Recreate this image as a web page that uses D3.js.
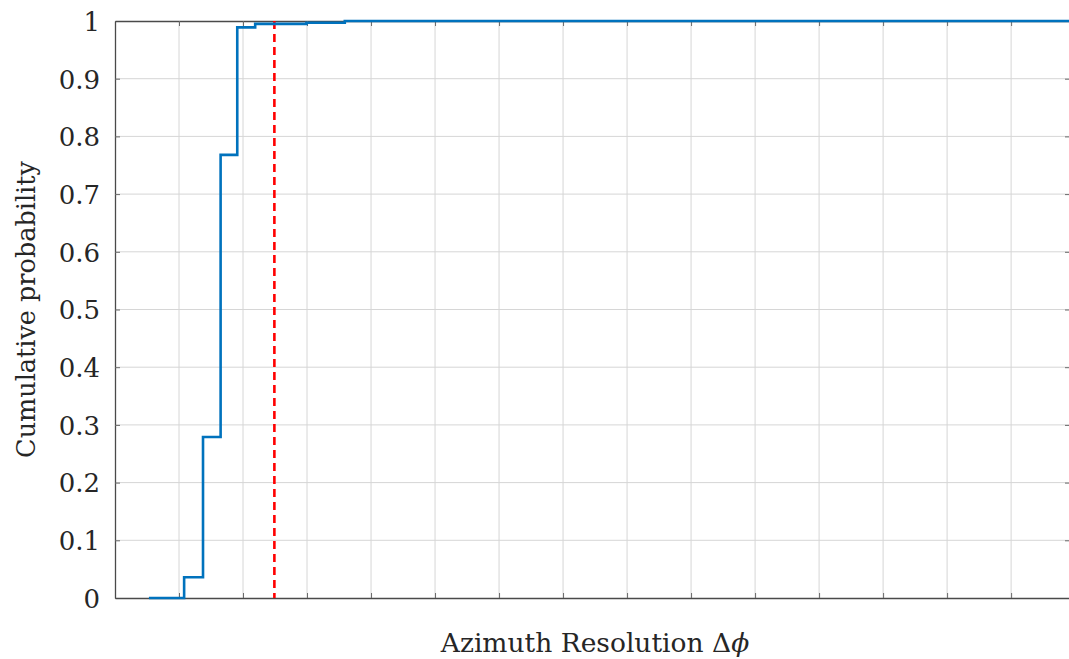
<!DOCTYPE html>
<html>
<head>
<meta charset="utf-8">
<script src="https://cdn.jsdelivr.net/npm/d3@7"></script>
<style>
  body { margin: 0; background: #fff; }
  svg { display: block; }
  text { fill: #262626; }
</style>
</head>
<body>
<svg></svg>
<script>
// stair (empirical CDF) breakpoints, x in grid units
var stepX = [0.53, 1.08, 1.375, 1.65, 1.91, 2.19, 2.99, 3.59, 14.92];
var stepY = [0, 0.036, 0.279, 0.768, 0.989, 0.995, 0.997, 1, 1];
var thresholdX = 2.49;
var xGrid = [1, 2, 3, 4, 5, 6, 7, 8, 9, 10, 11, 12, 13, 14];
var yTicks = [0, 0.1, 0.2, 0.3, 0.4, 0.5, 0.6, 0.7, 0.8, 0.9, 1];
var yTickLabels = ['0', '0.1', '0.2', '0.3', '0.4', '0.5', '0.6', '0.7', '0.8', '0.9', '1'];

(function draw() {
  var width = 1069, height = 659;
  var pl = 115, pt = 21, pb = 598, pr = 1070;
  var serif = "'DejaVu Serif', serif";

  var svg = d3.select('svg').attr('width', width).attr('height', height);

  var x = d3.scaleLinear().domain([0, 14.92]).range([pl, pr]);
  var y = d3.scaleLinear().domain([0, 1]).range([pb, pt]);

  // grid
  svg.append('g').selectAll('line').data(xGrid).enter().append('line')
    .attr('x1', function(d){ return x(d) }).attr('x2', function(d){ return x(d) })
    .attr('y1', pt).attr('y2', pb)
    .attr('stroke', '#d6d6d6').attr('stroke-width', 1);
  svg.append('g').selectAll('line').data(yTicks.slice(1, -1)).enter().append('line')
    .attr('y1', function(d){ return y(d) }).attr('y2', function(d){ return y(d) })
    .attr('x1', pl).attr('x2', pr)
    .attr('stroke', '#d6d6d6').attr('stroke-width', 1);

  // axes (MATLAB style ticks inward, box)
  var axL = svg.append('g').attr('transform', 'translate(' + pl + ',0)')
    .call(d3.axisLeft(y).tickValues(yTicks).tickSizeInner(-5).tickSizeOuter(0).tickPadding(15)
      .tickFormat(function(d, i){ return yTickLabels[i] }));
  svg.append('g').attr('transform', 'translate(' + pr + ',0)')
    .call(d3.axisRight(y).tickValues(yTicks).tickSizeInner(-5).tickSizeOuter(0).tickFormat(''));
  svg.append('g').attr('transform', 'translate(0,' + pb + ')')
    .call(d3.axisBottom(x).tickValues(xGrid).tickSizeInner(-5).tickSizeOuter(0).tickFormat(''));
  svg.append('g').attr('transform', 'translate(0,' + pt + ')')
    .call(d3.axisTop(x).tickValues(xGrid).tickSizeInner(-5).tickSizeOuter(0).tickFormat(''));

  svg.selectAll('.domain').attr('stroke', '#4a4a4a').attr('stroke-width', 1.3);
  svg.selectAll('.tick line').attr('stroke', '#6a6a6a');
  axL.selectAll('.tick text').attr('font-size', 26).style('font-family', serif)
    .attr('fill', '#262626').attr('dy', '0.36em');

  // threshold line
  svg.append('line')
    .attr('x1', x(thresholdX)).attr('x2', x(thresholdX))
    .attr('y1', pt).attr('y2', pb)
    .attr('stroke', '#ff0000').attr('stroke-width', 2.6)
    .attr('stroke-dasharray', '8,5');

  // CDF stairs
  var pts = stepX.map(function(d, i){ return [d, stepY[i]] });
  svg.append('path').datum(pts)
    .attr('fill', 'none').attr('stroke', '#0072BD').attr('stroke-width', 2.6)
    .attr('d', d3.line().x(function(d){ return x(d[0]) }).y(function(d){ return y(d[1]) })
      .curve(d3.curveStepAfter));

  // labels
  svg.append('text')
    .attr('x', 595).attr('y', 652)
    .attr('text-anchor', 'middle').attr('font-size', 26.5).style('font-family', serif)
    .html('Azimuth Resolution Δ<tspan font-style="italic">ϕ</tspan>');

  svg.append('text')
    .attr('transform', 'translate(35,' + ((pt + pb) / 2) + ') rotate(-90)')
    .attr('text-anchor', 'middle').attr('font-size', 25.5).style('font-family', serif)
    .text('Cumulative probability');
})();
</script>
</body>
</html>
